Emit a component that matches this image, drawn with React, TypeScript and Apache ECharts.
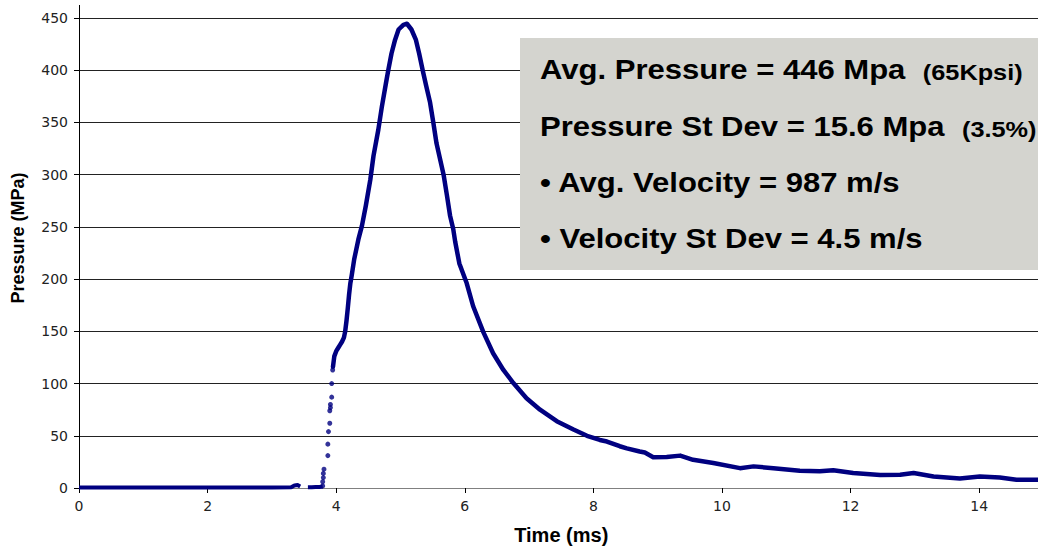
import React, { useEffect, useRef } from "react";
import * as echarts from "echarts";

// Time (ms) / Pressure (MPa)
const baseTime = [0, 0.5, 1, 1.5, 2, 2.5, 3, 3.3, 3.35, 3.4, 3.44];
const basePress = [0.5, 0.5, 0.5, 0.5, 0.5, 0.5, 0.5, 0.8, 2.5, 2.8, 1.5];

const base2Time = [3.56, 3.62, 3.68, 3.74, 3.79];
const base2Press = [0.8, 0.8, 0.9, 1, 1.5];

const riseTime = [3.79, 3.79, 3.8, 3.8, 3.81, 3.87, 3.87, 3.88, 3.9, 3.9, 3.91, 3.91, 3.93, 3.93, 3.945];
const risePress = [2, 6, 10, 14, 18, 31, 42, 54, 62, 74, 77, 80, 87, 100, 113];

const mainTime = [
  3.95, 3.97, 4.0, 4.03, 4.06, 4.09, 4.12, 4.14, 4.16, 4.18, 4.2, 4.22, 4.24, 4.28,
  4.345, 4.4, 4.46, 4.53, 4.58, 4.655, 4.71, 4.775, 4.81, 4.86, 4.915, 4.97, 5.045,
  5.1, 5.17, 5.24, 5.29, 5.345, 5.4, 5.46, 5.51, 5.56, 5.615, 5.67, 5.72, 5.77, 5.82,
  5.85, 5.915, 6.03, 6.13, 6.29, 6.44, 6.6, 6.755, 6.96, 7.17, 7.43, 7.69, 7.9, 8.1,
  8.21, 8.41, 8.52, 8.72, 8.8, 8.93, 9.14, 9.35, 9.55, 9.865, 10.28, 10.49, 10.8,
  11.21, 11.52, 11.73, 12.04, 12.46, 12.77, 12.98, 13.29, 13.7, 14.01, 14.32, 14.58,
  14.89, 15.0,
];
const mainPress = [
  116, 126, 131, 134, 137, 140, 144, 150, 160, 172, 185, 196, 203, 219,
  238, 251, 270, 295, 318, 343, 365, 388, 400, 416, 429, 439, 443.5,
  444.5, 439, 429, 416, 400, 385, 369, 350, 330, 315, 300, 281, 261, 248,
  236, 215, 196, 174, 149, 129, 113, 100.5, 86, 75, 64, 56, 50, 46,
  44.5, 40, 38, 35, 34, 29.5, 29.6, 31, 27, 24, 19, 20.7, 19,
  16.6, 16, 17, 14.3, 12.4, 12.7, 14.3, 11, 9, 11, 10, 8,
  8, 8,
];

const xTicks = { min: 0, max: 15, interval: 2 };
const yTicks = { min: 0, max: 450, interval: 50 };

const statLines = [
  { main: "Avg. Pressure = 446 Mpa  ", small: "(65Kpsi)" },
  { main: "Pressure St Dev = 15.6 Mpa  ", small: "(3.5%)" },
  { main: "• Avg. Velocity = 987 m/s", small: "" },
  { main: "• Velocity St Dev = 4.5 m/s", small: "" },
];

const zip = (a: number[], b: number[]) => a.map((v, i) => [v, b[i]]);

export default function App() {
  const ref = useRef<HTMLDivElement>(null);
  useEffect(() => {
    if (!ref.current) return;
    const chart = echarts.init(ref.current, undefined, { renderer: "svg" });
    const navy = "#000080";
    const lineY = [70, 127, 183, 239];
    chart.setOption({
      animation: false,
      backgroundColor: "#ffffff",
      grid: { left: 79, top: 18, bottom: 58, right: -5.5, containLabel: false, outerBoundsMode: "none" },
      xAxis: {
        type: "value",
        min: xTicks.min,
        max: xTicks.max,
        interval: xTicks.interval,
        name: "Time (ms)",
        nameLocation: "middle",
        nameGap: 37,
        nameTextStyle: { fontFamily: "Liberation Sans, Arial", fontWeight: "bold", fontSize: 20, color: "#000" },
        axisLine: { show: true, lineStyle: { color: "#808080", width: 1 } },
        axisTick: { show: true, length: 5, lineStyle: { color: "#000" } },
        axisLabel: { margin: 11, fontFamily: "DejaVu Sans", fontSize: 14, color: "#222", showMaxLabel: false },
        splitLine: { show: false },
      },
      yAxis: {
        type: "value",
        min: yTicks.min,
        max: yTicks.max,
        interval: yTicks.interval,
        name: "Pressure (MPa)",
        nameLocation: "middle",
        nameGap: 52,
        nameRotate: 90,
        nameTextStyle: {
          fontFamily: "Liberation Sans, Arial",
          fontWeight: "bold",
          fontSize: 18,
          color: "#000",
          padding: [0, 0, 0, 30],
        },
        axisLine: { show: true, lineStyle: { color: "#000", width: 1 } },
        axisTick: { show: true, length: 5, lineStyle: { color: "#000" } },
        axisLabel: { margin: 11, fontFamily: "DejaVu Sans", fontSize: 14, color: "#222" },
        splitLine: { show: true, lineStyle: { color: "#222", width: 1 } },
      },
      series: [
        {
          type: "line",
          data: zip(baseTime, basePress),
          symbol: "none",
          lineStyle: { color: navy, width: 4 },
          z: 3,
        },
        {
          type: "line",
          data: zip(base2Time, base2Press),
          symbol: "none",
          lineStyle: { color: navy, width: 4 },
          z: 3,
        },
        {
          type: "scatter",
          data: zip(riseTime, risePress),
          symbolSize: 5,
          itemStyle: { color: navy },
          z: 3,
        },
        {
          type: "line",
          data: zip(mainTime, mainPress),
          symbol: "none",
          lineStyle: { color: navy, width: 4.5, join: "round", cap: "round" },
          z: 3,
        },
      ],
      graphic: [
        {
          type: "line",
          z: 50,
          shape: { x1: 79.5, y1: 5, x2: 79.5, y2: 18 },
          style: { stroke: "#000", lineWidth: 1 },
        },
        {
          type: "rect",
          z: 100,
          shape: { x: 520, y: 38, width: 530, height: 232 },
          style: { fill: "#d4d4cf" },
        },
        ...statLines.map((l, i) => ({
          type: "text",
          z: 101,
          x: 540,
          y: lineY[i],
          scaleX: 1.15,
          style: {
            text: l.small ? `{a|${l.main}}{b|${l.small}}` : `{a|${l.main}}`,
            verticalAlign: "middle",
            align: "left",
            rich: {
              a: { fontFamily: "Liberation Sans, Arial", fontWeight: "bold", fontSize: 27, fill: "#000", color: "#000" },
              b: { fontFamily: "Liberation Sans, Arial", fontWeight: "bold", fontSize: 22, fill: "#000", color: "#000", verticalAlign: "bottom" },
            },
          },
        })),
      ],
    });
    return () => chart.dispose();
  }, []);
  return (
    <div
      ref={ref}
      style={{ position: "fixed", left: 0, top: 0, width: 1038, height: 546, background: "#fff" }}
    />
  );
}
